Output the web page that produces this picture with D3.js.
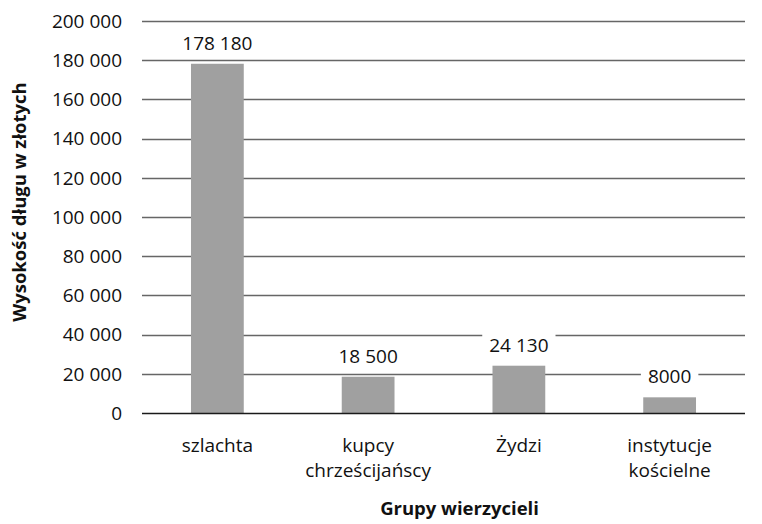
<!DOCTYPE html>
<html>
<head>
<meta charset="utf-8">
<script src="https://cdn.jsdelivr.net/npm/d3@7"></script>
<style>
  body { margin: 0; background: #fff; }
  text { font-family: "Open Sans", sans-serif; fill: #111; }
</style>
</head>
<body>
<div id="chart"></div>
<script>
// chart data
const categories = [["szlachta"], ["kupcy", "chrześcijańscy"], ["Żydzi"], ["instytucje", "kościelne"]];
const values = [178180, 18500, 24130, 8000];
const valueLabels = ["178 180", "18 500", "24 130", "8000"];
const yTicks = [0, 20000, 40000, 60000, 80000, 100000, 120000, 140000, 160000, 180000, 200000];
const yTitle = "Wysokość długu w złotych";
const xTitle = "Grupy wierzycieli";

const width = 762, height = 524;
const margin = { top: 21, right: 17, bottom: 111, left: 142 };

const svg = d3.select("#chart").append("svg")
    .attr("width", width)
    .attr("height", height);

const x = d3.scaleBand()
    .domain(d3.range(values.length))
    .range([margin.left, width - margin.right])
    .paddingInner(0.65)
    .paddingOuter(0.325);

const y = d3.scaleLinear()
    .domain([0, 200000])
    .range([height - margin.bottom, margin.top]);

const fmt = v => v === 0 ? "0" : d3.format(",")(v).replace(/,/g, " ");

// gridlines
svg.append("g")
    .selectAll("line")
    .data(yTicks.filter(d => d > 0))
    .join("line")
    .attr("x1", margin.left)
    .attr("x2", width - margin.right)
    .attr("y1", d => Math.round(y(d)) + 0.5)
    .attr("y2", d => Math.round(y(d)) + 0.5)
    .attr("stroke", "#666")
    .attr("stroke-width", 1.4);

// y tick labels
svg.append("g")
    .selectAll("text")
    .data(yTicks)
    .join("text")
    .attr("x", 122)
    .attr("y", d => y(d))
    .attr("dy", "0.36em")
    .attr("text-anchor", "end")
    .style("font-size", "19px")
    .text(fmt);

// bars
svg.append("g")
    .selectAll("rect")
    .data(values)
    .join("rect")
    .attr("x", (d, i) => x(i))
    .attr("y", d => y(d))
    .attr("width", x.bandwidth())
    .attr("height", d => y(0) - y(d))
    .attr("fill", "#a0a0a0");

// zero line
svg.append("line")
    .attr("x1", margin.left)
    .attr("x2", width - margin.right)
    .attr("y1", Math.round(y(0)) + 0.5)
    .attr("y2", Math.round(y(0)) + 0.5)
    .attr("stroke", "#1a1a1a")
    .attr("stroke-width", 1.5);

// value labels with white boxes over the grid
const lbl = svg.append("g")
    .selectAll("g")
    .data(values)
    .join("g")
    .attr("transform", (d, i) => `translate(${x(i) + x.bandwidth() / 2},${y(d) - 14})`);

lbl.append("text")
    .attr("text-anchor", "middle")
    .style("font-size", "19px")
    .text((d, i) => valueLabels[i]);

lbl.insert("rect", "text")
    .each(function () {
        const bb = this.nextSibling.getBBox();
        d3.select(this)
            .attr("x", bb.x - 7)
            .attr("y", bb.y - 1)
            .attr("width", bb.width + 14)
            .attr("height", bb.height + 2)
            .attr("fill", "#fff");
    });

// category labels
svg.append("g")
    .selectAll("text")
    .data(categories)
    .join("text")
    .attr("text-anchor", "middle")
    .attr("transform", (d, i) => `translate(${x(i) + x.bandwidth() / 2},452)`)
    .style("font-size", "19px")
    .selectAll("tspan")
    .data(d => d)
    .join("tspan")
    .attr("x", 0)
    .attr("dy", (d, i) => i === 0 ? 0 : 25)
    .text(d => d);

// axis titles
svg.append("text")
    .attr("x", (margin.left + width - margin.right) / 2 + 16)
    .attr("y", 515)
    .attr("text-anchor", "middle")
    .style("font-size", "18.5px")
    .style("font-weight", "bold")
    .text(xTitle);

svg.append("text")
    .attr("transform", `translate(26,202) rotate(-90)`)
    .attr("text-anchor", "middle")
    .style("font-size", "18.5px")
    .style("font-weight", "bold")
    .text(yTitle);
</script>
</body>
</html>
